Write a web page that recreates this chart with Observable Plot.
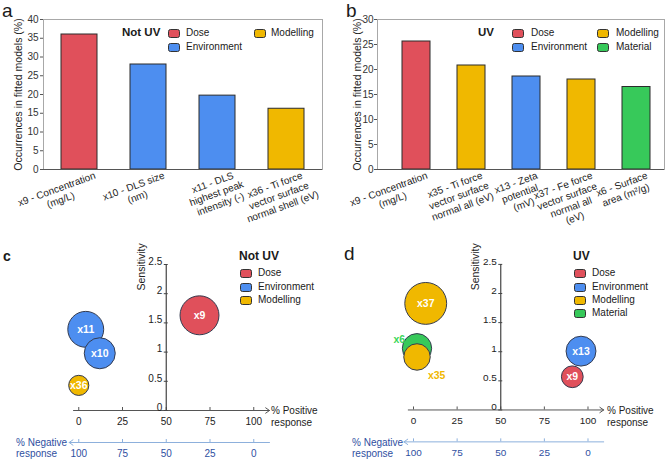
<!DOCTYPE html>
<html><head><meta charset="utf-8">
<script src="https://cdn.jsdelivr.net/npm/d3@7"></script>
<script src="https://cdn.jsdelivr.net/npm/@observablehq/plot@0.6"></script>
<style>
html,body{margin:0;padding:0;background:#fff;}
#root{position:relative;width:668px;height:459px;overflow:hidden;font-family:"Liberation Sans",Arial,sans-serif;color:#1a1a1a;}
.abs{position:absolute;white-space:pre;}
.panel{position:absolute;}
.sw{position:absolute;width:12px;height:9px;box-sizing:border-box;border:1px solid #333;border-radius:2.5px;}
</style></head><body><div id="root"></div>
<script>
// ---------------- data ----------------
const groups = ["Dose", "Environment", "Modelling", "Material"];
const groupColors = ["#e0505b", "#4d8ef0", "#f0b800", "#37c95a"];

// (a) Not UV – occurrences in fitted models (%)
const notUvBarLabels = ["x9 - Concentration\n(mg/L)", "x10 - DLS size\n(nm)", "x11 - DLS\nhighest peak\nintensity (-)", "x36 - Ti force\nvector surface\nnormal shell (eV)"];
const notUvOccurrences = [36, 28, 19.7, 16.2];
const notUvBarGroups = ["Dose", "Environment", "Environment", "Modelling"];
const notUvYTicks = [0, 5, 10, 15, 20, 25, 30, 35, 40];

// (b) UV – occurrences in fitted models (%)
const uvBarLabels = ["x9 - Concentration\n(mg/L)", "x35 - Ti force\nvector surface\nnormal all (eV)", "x13 - Zeta\npotential\n(mV)", "x37 - Fe force\nvector surface\nnormal all\n(eV)", "x6 - Surface\narea (m²/g)"];
const uvOccurrences = [25.6, 20.8, 18.6, 18.0, 16.5];
const uvBarGroups = ["Dose", "Modelling", "Environment", "Modelling", "Material"];
const uvYTicks = [0, 5, 10, 15, 20, 25, 30];

// (c) Not UV – bubbles
const notUvIds = ["x11", "x10", "x36", "x9"];
const notUvPositive = [4, 12, 0, 69];
const notUvSensitivity = [1.39, 0.98, 0.43, 1.63];
const notUvSize = [0.73, 0.545, 0.23, 0.86];
const notUvBubbleGroups = ["Environment", "Environment", "Modelling", "Dose"];

// (d) UV – bubbles
const uvIds = ["x37", "x6", "x35", "x13", "x9"];
const uvPositive = [7, 2, 2, 96, 91];
const uvSensitivity = [1.83, 1.06, 0.91, 1.01, 0.57];
const uvSize = [1.0, 0.49, 0.40, 0.51, 0.27];
const uvBubbleGroups = ["Modelling", "Material", "Modelling", "Environment", "Dose"];

const sensTicks = [0, 0.5, 1, 1.5, 2, 2.5];
const respTicks = [0, 25, 50, 75, 100];
const yTitleBars = "Occurrences in fitted models (%)";

// ---------------- helpers ----------------
const root = document.getElementById("root");
const FONT = "Liberation Sans, Arial, sans-serif";
const colorOf = g => groupColors[groups.indexOf(g)];

function addText(txt, left, cy, size, opts = {}) {
  const el = document.createElement("div");
  el.className = "abs";
  el.textContent = txt;
  const lh = opts.lineHeight || size * 1.2;
  el.style.left = left + "px";
  el.style.top = (cy - lh / 2) + "px";
  el.style.fontSize = size + "px";
  el.style.lineHeight = lh + "px";
  if (opts.bold) el.style.fontWeight = "bold";
  if (opts.color) el.style.color = opts.color;
  root.appendChild(el);
}
function addSwatch(left, cy, group) {
  const el = document.createElement("div");
  el.className = "sw";
  el.style.left = left + "px";
  el.style.top = (cy - 4.5) + "px";
  el.style.background = colorOf(group);
  root.appendChild(el);
}
function addPanel(svg, left, top) {
  const d = document.createElement("div");
  d.className = "panel";
  d.style.left = left + "px";
  d.style.top = top + "px";
  d.appendChild(svg);
  root.appendChild(d);
}

const measureCtx = document.createElement("canvas").getContext("2d");
measureCtx.font = "10px 'Liberation Sans'";

function barPanel({labels, values, grp, yMax, ticks, marginLeft, marginRight, insetLeft, insetRight, paddingInner, paddingOuter, labelOffset, tickPadding, titleDx}) {
  const data = labels.map((v, i) => ({v, occ: values[i], g: grp[i]}));
  const ang = 20 * Math.PI / 180;
  const labelMarks = data.map(d => {
    // centre of the first line is placed so that its right end sits just right of the bar centre
    const w1 = measureCtx.measureText(d.v.split("\n")[0]).width;
    return Plot.text([d], {
      x: "v", frameAnchor: "bottom", text: "v", rotate: -20,
      textAnchor: "middle", lineAnchor: "top", lineHeight: 1.15, fontSize: 10, fill: "#1a1a1a",
      dx: labelOffset - (w1 / 2) * Math.cos(ang), dy: 1 + (w1 / 2) * Math.sin(ang)
    });
  });
  return Plot.plot({
    width: 334, height: 230, marginLeft, marginRight, marginTop: 19, marginBottom: 61,
    style: {fontFamily: FONT, fontSize: "10px", background: "transparent", overflow: "visible"},
    x: {domain: labels, paddingInner, paddingOuter, axis: null},
    y: {domain: [0, yMax]},
    color: {domain: groups, range: groupColors},
    marks: [
      Plot.frame({stroke: "#a8a8a8", insetLeft, insetRight}),
      Plot.barY(data, {x: "v", y: "occ", fill: "g", stroke: "#2b2b2b", strokeWidth: 1}),
      Plot.ruleY([0], {stroke: "#555", insetLeft, insetRight}),
      Plot.axisY(ticks, {anchor: "left", tickSize: 3, tickPadding, fontSize: 10, dx: insetLeft, label: null, stroke: "#555", fill: "#333", tickFormat: d => String(d)}),
      Plot.text([yTitleBars], {frameAnchor: "left", rotate: -90, textAnchor: "middle", lineAnchor: "middle", dx: titleDx, fontSize: 10.5, fill: "#222", text: d => d}),
      ...labelMarks
    ]
  });
}

const xDomain = [-3, 109];
const yAxisAt = 50;
function bubblePanel({ids, pos, sens, size, grp, extraMarks}) {
  const W = 334, H = 229, mL = 73, mR = 65;
  const data = ids.map((id, i) => ({id, x: pos[i], y: sens[i], s: size[i], g: grp[i]}));
  const dxY = (yAxisAt - xDomain[0]) * (W - mL - mR) / (xDomain[1] - xDomain[0]);
  return Plot.plot({
    width: W, height: H, marginLeft: mL, marginRight: mR, marginTop: 34, marginBottom: 49,
    style: {fontFamily: FONT, fontSize: "10px", background: "transparent", overflow: "visible"},
    x: {domain: xDomain},
    y: {domain: [0, sensTicks[sensTicks.length - 1]]},
    r: {type: "sqrt", domain: [0, 1], range: [0, 21]},
    color: {domain: groups, range: groupColors},
    marks: [
      // positive response axis
      Plot.arrow([{a: xDomain[0], b: xDomain[1], y: 0}], {x1: "a", x2: "b", y1: "y", y2: "y", stroke: "#555", strokeWidth: 1, headLength: 7, headAngle: 70}),
      Plot.axisX(respTicks, {anchor: "bottom", tickSize: 3, dy: -3, tickFormat: () => "", stroke: "#555", label: null}),
      Plot.axisX(respTicks, {anchor: "bottom", tickSize: 0, tickPadding: 7, fontSize: 10, fill: "#222", label: null, tickFormat: d => String(d)}),
      // negative response axis
      Plot.arrow([{a: xDomain[1], b: xDomain[0] - 2.5, y: 0}], {x1: "a", x2: "b", y1: "y", y2: "y", dy: 32, stroke: "#8db0dc", strokeWidth: 1, headLength: 7, headAngle: 70}),
      Plot.axisX(respTicks, {anchor: "bottom", tickSize: 3, dy: 29, tickFormat: () => "", stroke: "#8db0dc", label: null}),
      Plot.axisX(respTicks, {anchor: "bottom", tickSize: 0, tickPadding: 7, dy: 32, fontSize: 10, fill: "#2f4f9f", tickFormat: d => String(100 - d), label: null}),
      // sensitivity axis
      Plot.ruleX([yAxisAt], {y1: 0, y2: sensTicks[sensTicks.length - 1], stroke: "#444", strokeWidth: 1.2}),
      Plot.axisY(sensTicks, {anchor: "left", tickSize: 4, dx: dxY + 2, tickFormat: () => "", stroke: "#444", label: null}),
      Plot.axisY(sensTicks, {anchor: "left", tickSize: 0, tickPadding: 4, dx: dxY, dy: -3, fontSize: 10, fill: "#222", label: null, tickFormat: d => String(d)}),
      Plot.text([{x: yAxisAt, y: sensTicks[sensTicks.length - 1], t: "Sensitivity"}], {x: "x", y: "y", text: "t", rotate: -90, textAnchor: "start", lineAnchor: "middle", dx: -25, dy: 26, fontSize: 10.5, fill: "#222"}),
      // bubbles
      Plot.dot(data, {x: "x", y: "y", r: "s", fill: "g", stroke: "#343b4f", strokeWidth: 1, fillOpacity: 1}),
      ...extraMarks(data)
    ]
  });
}

// ---------------- panels ----------------
addPanel(barPanel({labels: notUvBarLabels, values: notUvOccurrences, grp: notUvBarGroups, yMax: 40, ticks: notUvYTicks,
  marginLeft: 43, marginRight: 12, insetLeft: 0, insetRight: 0, paddingInner: 0.484, paddingOuter: 0.242, labelOffset: 14, tickPadding: 2, titleDx: -25}), 0, 0);

addPanel(barPanel({labels: uvBarLabels, values: uvOccurrences, grp: uvBarGroups, yMax: 30, ticks: uvYTicks,
  marginLeft: 52, marginRight: 3, insetLeft: -9, insetRight: 1, paddingInner: 0.5, paddingOuter: 0.25, labelOffset: 9, tickPadding: 1, titleDx: -29}), 334, 0);

addPanel(bubblePanel({ids: notUvIds, pos: notUvPositive, sens: notUvSensitivity, size: notUvSize, grp: notUvBubbleGroups,
  extraMarks: data => [
    Plot.text(data, {x: "x", y: "y", text: "id", fill: "white", fontWeight: "bold", fontSize: 10.5})
  ]}), 0, 230);

addPanel(bubblePanel({ids: uvIds, pos: uvPositive, sens: uvSensitivity, size: uvSize, grp: uvBubbleGroups,
  extraMarks: data => [
    Plot.text(data.filter(d => d.id !== "x6" && d.id !== "x35"), {x: "x", y: "y", text: "id", fill: "white", fontWeight: "bold", fontSize: 10.5}),
    Plot.text(data.filter(d => d.id === "x6"), {x: "x", y: "y", text: "id", fill: "#3ad65a", fontWeight: "bold", fontSize: 10.5, textAnchor: "end", dx: -12, dy: -9}),
    Plot.text(data.filter(d => d.id === "x35"), {x: "x", y: "y", text: "id", fill: "#f0b800", fontWeight: "bold", fontSize: 10.5, textAnchor: "start", dx: 11, dy: 19})
  ]}), 335, 230);

// ---------------- legends & annotations ----------------
addText("a", 2, 10, 19, {lineHeight: 19});
addText("b", 346, 10, 19, {lineHeight: 19});
addText("c", 3, 256, 14, {lineHeight: 14, bold: true});
addText("d", 344, 253, 19, {lineHeight: 19});

// legend a
addText("Not UV", 122, 33, 11.5, {bold: true});
addSwatch(168, 33, "Dose"); addText("Dose", 186, 33, 10);
addSwatch(168, 47, "Environment"); addText("Environment", 186, 47, 10);
addSwatch(254, 33, "Modelling"); addText("Modelling", 271, 33, 10);

// legend b
addText("UV", 478, 33, 11.5, {bold: true});
addSwatch(512, 33, "Dose"); addText("Dose", 531, 33, 10);
addSwatch(512, 47, "Environment"); addText("Environment", 531, 47, 10);
addSwatch(597, 33, "Modelling"); addText("Modelling", 616, 33, 10);
addSwatch(597, 47, "Material"); addText("Material", 616, 47, 10);

// legend c
addText("Not UV", 239, 256, 12, {bold: true});
["Dose", "Environment", "Modelling"].forEach((g, i) => {
  const cy = [273, 287, 300][i];
  addSwatch(240, cy, g); addText(g, 258, cy, 10);
});
// legend d
addText("UV", 573, 256, 12, {bold: true});
["Dose", "Environment", "Modelling", "Material"].forEach((g, i) => {
  const cy = [273, 287, 300, 313][i];
  addSwatch(574, cy, g); addText(g, 592, cy, 10);
});

// axis annotations
addText("% Positive\nresponse", 271, 410.5, 10, {lineHeight: 12, color: "#222"});
addText("% Positive\nresponse", 607, 410.5, 10, {lineHeight: 12, color: "#222"});
addText("% Negative\nresponse", 16, 442.5, 10, {lineHeight: 11.5, color: "#2f4f9f"});
addText("% Negative\nresponse", 352, 442.5, 10, {lineHeight: 11.5, color: "#2f4f9f"});
</script></body></html>
